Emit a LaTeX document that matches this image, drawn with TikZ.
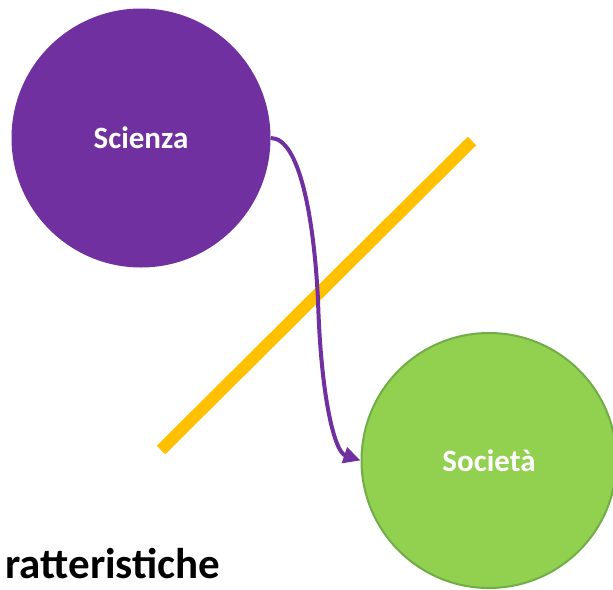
\documentclass[tikz,border=0pt]{standalone}
\usepackage{fontspec}
\setmainfont{Carlito}
\usetikzlibrary{arrows.meta}
\definecolor{viola}{HTML}{7030A0}
\definecolor{verde}{HTML}{92D050}
\definecolor{verdebordo}{HTML}{70AD47}
\definecolor{giallo}{HTML}{FFC000}
\begin{document}
\begin{tikzpicture}[x=1pt, y=-1pt,
  bolla/.style={circle, inner sep=0pt, minimum size=#1, text=white,
                font=\fontsize{31}{36}\selectfont\bfseries},
  barra/.style={draw=giallo, line width=12pt},
  freccia/.style={-{Triangle[length=17pt,width=16pt]}, draw=viola,
                  line width=4pt}
]
  \useasboundingbox (0,0) rectangle (613,589);

  \node[bolla=259pt, fill=viola] (scienza) at (141,138) {Scienza};
  \node[bolla=255pt, fill=verde, draw=verdebordo, line width=2pt]
    (societa) at (489,460.5) {Società};

  % barra gialla
  \coordinate (barraA) at (161,450);
  \coordinate (barraB) at (472,141);
  \draw[barra] (barraA) -- (barraB);

  \draw[freccia] (scienza.east) .. controls (300,138) and (314,220) ..
    (318,300) .. controls (321,400) and (335,452) .. (societa.west);

  \node[anchor=base east, font=\fontsize{43}{52}\selectfont\bfseries]
    (titolo) at (224,578) {ratteristiche};
\end{tikzpicture}
\end{document}
